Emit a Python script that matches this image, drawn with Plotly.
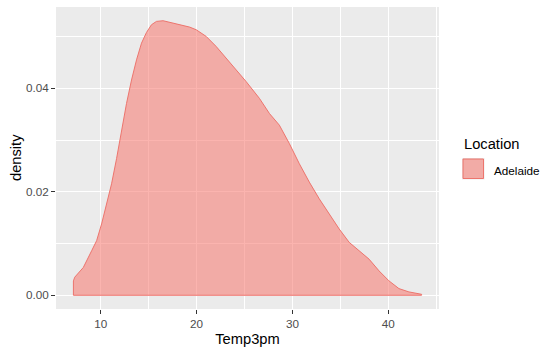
import plotly.graph_objects as go

# Density curve of Temp3pm for Adelaide
temp = [7.16, 7.3, 8.19, 9.06, 9.58, 10.1, 10.62, 11.14, 11.66, 12.18, 12.7, 13.22, 13.74,
        14.26, 14.78, 15.3, 15.82, 16.51, 17.2, 18.24, 19.28, 19.97, 21.01, 22.05, 23.1,
        24.14, 25.18, 26.56, 27.6, 28.64, 29.68, 30.72, 31.76, 32.8, 33.84, 34.88, 35.92,
        36.95, 37.99, 39.03, 40.07, 41.11, 42.15, 43.47]
density = [0.00278, 0.0035, 0.00537, 0.0086, 0.01055, 0.01379, 0.01767, 0.02155, 0.02641,
           0.03191, 0.03708, 0.04161, 0.0455, 0.04873, 0.0508, 0.05229, 0.05294, 0.05307,
           0.05275, 0.05229, 0.05184, 0.05132, 0.05003, 0.04809, 0.04582, 0.04356, 0.04129,
           0.03806, 0.03514, 0.03288, 0.02932, 0.02543, 0.02188, 0.01864, 0.01573, 0.01281,
           0.01023, 0.00861, 0.00699, 0.00472, 0.00278, 0.00129, 0.00065, 0.00019]
location = "Adelaide"
x_ticks = [10, 20, 30, 40]
y_ticks = [0.0, 0.02, 0.04]
y_ticklabels = ["0.00", "0.02", "0.04"]

FILL = "rgba(248,118,109,0.55)"
EDGE = "rgba(236,112,104,0.95)"

poly_x = [temp[0]] + temp + [temp[-1], temp[0]]
poly_y = [0] + density + [0, 0]

fig = go.Figure()
fig.add_trace(go.Scatter(x=poly_x, y=poly_y, fill="toself", fillcolor=FILL,
                         mode="lines", line=dict(color=EDGE, width=1),
                         name=location, showlegend=False, hoverinfo="skip"))

W, H = 555, 354
L, R, T, B = 56, 116, 7, 45
pw, ph = W - L - R, H - T - B

def px(xp):
    return (xp - L) / pw

def py(yp):
    return 1 - (yp - T) / ph

xmin, xmax = min(temp), max(temp)
xr = xmax - xmin
ymax = max(density)

fig.update_layout(
    width=W, height=H,
    margin=dict(l=L, r=R, t=T, b=B),
    paper_bgcolor="white", plot_bgcolor="#EBEBEB",
    font=dict(family="Liberation Sans, Arial, sans-serif", color="#4D4D4D", size=11.7),
    xaxis=dict(range=[xmin - 0.05 * xr, xmax + 0.05 * xr], tickvals=x_ticks,
               ticks="outside", ticklen=4, tickcolor="#333333", tickwidth=1,
               showgrid=True, gridcolor="white", gridwidth=1.1, zeroline=False,
               showline=False,
               minor=dict(tickvals=[15, 25, 35, 45], showgrid=True, gridcolor="white",
                          gridwidth=0.5, ticks=""),
               title=dict(text="Temp3pm", font=dict(color="black", size=14.7), standoff=4),
               tickfont=dict(color="#4D4D4D", size=11.7)),
    yaxis=dict(range=[-0.05 * ymax, 1.05 * ymax], tickvals=y_ticks, ticktext=y_ticklabels,
               ticks="outside", ticklen=4, tickcolor="#333333", tickwidth=1,
               showgrid=True, gridcolor="white", gridwidth=1.1, zeroline=False,
               showline=False,
               minor=dict(tickvals=[0.01, 0.03, 0.05], showgrid=True, gridcolor="white",
                          gridwidth=0.5, ticks=""),
               tickfont=dict(color="#4D4D4D", size=11.7)),
    showlegend=False,
)

# y axis title
fig.add_annotation(xref="paper", yref="paper", x=px(15.5), y=py(157.5), text="density",
                   showarrow=False, textangle=-90, xanchor="center", yanchor="middle",
                   font=dict(size=14.7, color="black"))

# legend (ggplot style)
fig.add_annotation(xref="paper", yref="paper", x=px(462), y=py(144), text="Location",
                   showarrow=False, xanchor="left", yanchor="middle",
                   font=dict(size=14.7, color="black"))
fig.add_shape(type="rect", xref="paper", yref="paper", x0=px(462), x1=px(484.5),
              y0=py(158), y1=py(179.5), fillcolor="#EBEBEB", line=dict(width=0))
fig.add_shape(type="rect", xref="paper", yref="paper", x0=px(463), x1=px(483.5),
              y0=py(159), y1=py(178.5), fillcolor=FILL, line=dict(color=EDGE, width=1))
fig.add_annotation(xref="paper", yref="paper", x=px(492), y=py(170.5), text=location,
                   showarrow=False, xanchor="left", yanchor="middle",
                   font=dict(size=11.7, color="black"))

fig.write_html("out.html")
